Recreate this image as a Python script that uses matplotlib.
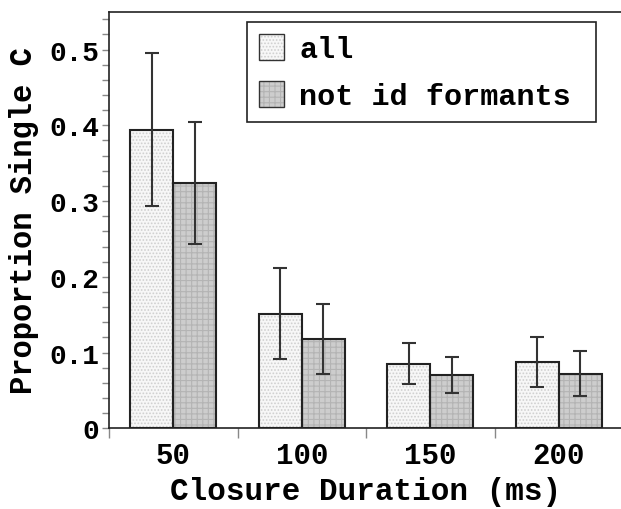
import matplotlib
matplotlib.use("Agg")
import matplotlib.pyplot as plt
import numpy as np
from matplotlib.ticker import MultipleLocator, FixedLocator
from matplotlib.patches import Patch, Rectangle
from matplotlib.legend_handler import HandlerTuple

categories = ["50", "100", "150", "200"]
series_names = ["all", "not id formants"]
all_vals = [0.394, 0.151, 0.085, 0.088]
all_err = [0.101, 0.060, 0.027, 0.033]
notid_vals = [0.324, 0.118, 0.070, 0.072]
notid_err = [0.081, 0.046, 0.024, 0.030]
y_ticks = [0, 0.1, 0.2, 0.3, 0.4, 0.5]
y_ticklabels = ["0", "0.1", "0.2", "0.3", "0.4", "0.5"]

plt.rcParams["font.family"] = ["Liberation Mono", "DejaVu Sans Mono"]
plt.rcParams["font.weight"] = "bold"
plt.rcParams["hatch.linewidth"] = 0.8

W, H = 621, 510
fig = plt.figure(figsize=(W / 100, H / 100), dpi=100)
ax = fig.add_axes([109 / W, 1 - 429.3 / H, (623 - 109) / W, (429.3 - 12.7) / H])

x = np.arange(len(categories))
w = 0.333
styles = [
    dict(face="#f7f7f7", hatch=".....", hcol="#cfcfcf"),
    dict(face="#cdcdcd", hatch="+++", hcol="#b4b4b4"),
]
data = [(all_vals, all_err), (notid_vals, notid_err)]
offsets = [-w / 2, w / 2]
for (vals, errs), st, off in zip(data, styles, offsets):
    ax.bar(x + off, vals, width=w, color=st["face"], hatch=st["hatch"],
           edgecolor=st["hcol"], linewidth=0, zorder=2)
    ax.bar(x + off, vals, width=w, fill=False, edgecolor="#222222",
           linewidth=1.5, zorder=3)
    ax.errorbar(x + off, vals, yerr=errs, fmt="none", ecolor="#333333",
                elinewidth=1.5, capsize=5, capthick=1.5, zorder=4)

ax.set_xlim(-0.5, 3.5)
ax.set_ylim(0, 0.55)
ax.set_yticks(y_ticks)
ax.set_yticklabels(y_ticklabels)
ax.yaxis.set_minor_locator(MultipleLocator(0.02))
ax.set_xticks(x)
ax.set_xticklabels(categories)
ax.xaxis.set_minor_locator(FixedLocator([-0.5, 0.5, 1.5, 2.5]))
ax.tick_params(axis="x", which="major", length=0, pad=9, labelsize=21)
ax.tick_params(axis="x", which="minor", length=7, width=1, color="#888888", direction="out")
ax.tick_params(axis="y", which="both", length=5, width=1, color="#888888", direction="out",
               labelsize=20, pad=2)

for s in ["left", "top", "bottom"]:
    ax.spines[s].set_color("#222222")
    ax.spines[s].set_linewidth(1.2)
ax.spines["right"].set_visible(False)

ax.set_xlabel("Closure Duration (ms)", fontsize=22.3, fontweight="bold", labelpad=5)
ax.set_ylabel("Proportion Single C", fontsize=22, fontweight="bold")
ax.yaxis.set_label_coords(-0.136, 0.5)

# legend: hatched fill + dark outline overlaid
handles = []
for st in styles:
    fill = Patch(facecolor=st["face"], hatch=st["hatch"], edgecolor=st["hcol"], linewidth=0)
    outline = Patch(fill=False, edgecolor="#333333", linewidth=1.0)
    handles.append((fill, outline))
leg = fig.legend(handles, series_names, loc="upper left",
                 bbox_to_anchor=(259 / W, 1 - 35 / H),
                 handler_map={tuple: HandlerTuple(ndivide=1, pad=0)},
                 fontsize=21.7, frameon=False,
                 handlelength=0.83, handleheight=0.96, handletextpad=0.5,
                 labelspacing=0.58, borderpad=0, borderaxespad=0)
box = Rectangle((247 / W, 1 - 123 / H), (596 - 247) / W, 100 / H,
                transform=fig.transFigure, fill=False, edgecolor="#222222",
                linewidth=1.2, zorder=5)
fig.add_artist(box)

fig.savefig("out.png", dpi=100, facecolor="white")
